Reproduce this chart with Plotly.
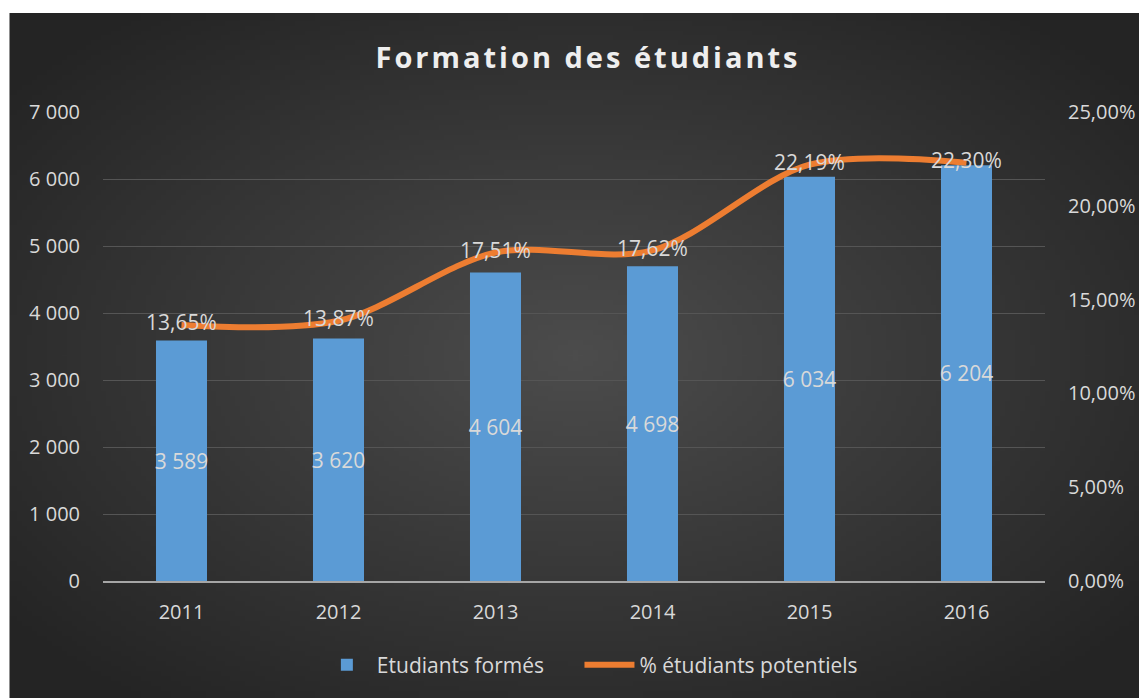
import base64, struct, zlib
import plotly.graph_objects as go

# ---- data ----
years = ["2011", "2012", "2013", "2014", "2015", "2016"]
etudiants_formes = [3589, 3620, 4604, 4698, 6034, 6204]
pct_potentiels = [0.1365, 0.1387, 0.1751, 0.1762, 0.2219, 0.2230]

# ---- radial gradient background as PNG ----
def make_png(w, h, c_center=76, c_edge=36, cx=0.50, cy=0.50):
    rows = []
    for j in range(h):
        row = bytearray([0])
        for i in range(w):
            dx = (i / (w - 1) - cx) / 0.64
            dy = (j / (h - 1) - cy) / 0.64
            d = min((dx * dx + dy * dy) ** 0.5, 1.0)
            v = int(round(c_center + (c_edge - c_center) * d))
            row += bytes([v, v, v])
        rows.append(bytes(row))
    raw = b"".join(rows)

    def chunk(t, data):
        c = struct.pack(">I", len(data)) + t + data
        return c + struct.pack(">I", zlib.crc32(t + data) & 0xFFFFFFFF)

    png = b"\x89PNG\r\n\x1a\n"
    png += chunk(b"IHDR", struct.pack(">IIBBBBB", w, h, 8, 2, 0, 0, 0))
    png += chunk(b"IDAT", zlib.compress(raw, 9))
    png += chunk(b"IEND", b"")
    return "data:image/png;base64," + base64.b64encode(png).decode()

bg = make_png(228, 137)

# page body has an 8px margin: figure occupies the window from (8,8)
W, H = 1139, 690
L, R, T, B = 95, 1042, 104, 573
pw, ph = R - L, B - T

FONT = "Open Sans"
TXT = "#d9d9d9"

fig = go.Figure()
fig.add_trace(go.Bar(
    x=years, y=etudiants_formes, name="Etudiants formés",
    marker=dict(color="#5b9bd5", line=dict(width=0)),
    width=0.325,
    texttemplate="%{y:,d}", textposition="inside", insidetextanchor="middle",
    textangle=0, constraintext="none",
    textfont=dict(color=TXT, size=21, family=FONT),
    yaxis="y", legend="legend",
))
fig.add_trace(go.Scatter(
    x=years, y=pct_potentiels, name="% étudiants potentiels",
    mode="lines+text", line=dict(color="#ed7d31", width=6, shape="spline", smoothing=0.9),
    texttemplate="%{y:.2%}", textposition="middle center",
    textfont=dict(color=TXT, size=21, family=FONT),
    yaxis="y2", legend="legend2",
))

leg_common = dict(orientation="h", xanchor="left", y=(B - 657) / ph, yanchor="middle",
                  font=dict(size=21, color=TXT, family=FONT),
                  bgcolor="rgba(0,0,0,0)", itemwidth=50)

fig.update_layout(
    width=W, height=H,
    margin=dict(l=L, r=W - R, t=T, b=H - B, pad=0),
    paper_bgcolor="white", plot_bgcolor="rgba(0,0,0,0)",
    separators=", ",
    font=dict(family=FONT, color=TXT, size=20),
    title=dict(text='<span style="letter-spacing:3px"><b>Formation des étudiants</b></span>',
               x=580 / W, xanchor="center",
               y=1 - 50 / H, yanchor="middle",
               font=dict(size=29, color="#eeeeee", family=FONT)),
    showlegend=True,
    legend=dict(x=(310 - L) / pw, **leg_common),
    legend2=dict(x=(574 - L) / pw, **leg_common),
    xaxis=dict(type="category", showgrid=False, showline=True, linecolor="#a6a6a6", linewidth=2,
               ticks="", tickfont=dict(size=20, color=TXT), ticklabelstandoff=12),
    yaxis=dict(range=[0, 7000], dtick=1000, tickformat=",d", showgrid=True,
               gridcolor="#555555", gridwidth=1, zeroline=False, showline=False,
               tickfont=dict(size=20, color=TXT), ticklabelstandoff=22),
    yaxis2=dict(range=[0, 0.25], dtick=0.05, tickformat=".2%", overlaying="y", side="right",
                showgrid=False, zeroline=False, showline=False,
                tickfont=dict(size=20, color=TXT), ticklabelstandoff=22),
    images=[dict(source=bg, xref="paper", yref="paper",
                 x=(1 - L) / pw, y=(B - 5) / ph, sizex=(W - 1) / pw, sizey=(H - 5) / ph,
                 xanchor="left", yanchor="top", sizing="stretch", layer="below")],
)

fig.write_html("out.html")
